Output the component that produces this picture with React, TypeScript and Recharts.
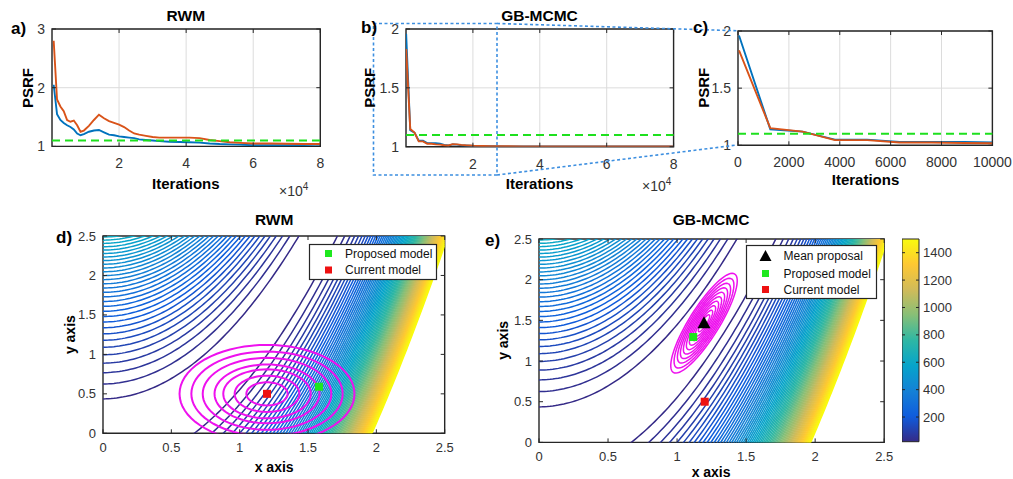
import React from "react";
import {
  Bar,
  CartesianGrid,
  ComposedChart,
  Line,
  LineChart,
  ReferenceArea,
  ReferenceLine,
  Scatter,
  XAxis,
  YAxis,
} from "recharts";

const FONT = "'Liberation Sans', Arial, Helvetica, sans-serif";
const INK = "#262626";
const TICK = "#333333";
const GRID = "#dcdcdc";
const BLUE = "#0072BD";
const ORANGE = "#D95319";
const GREEN = "#1ee01e";
const MAGENTA = "#ee11ee";
const RED = "#ee1111";
const ZOOM = "#3d8fe0";

const RWM_ITER = [
  500, 1500, 2500, 3500, 4500, 5500, 6500, 7500, 8500, 9500, 11000, 12500, 14000, 15500,
  17000, 18500, 20000, 21500, 23000, 24500, 26000, 28000, 30000, 32000, 35000, 38000,
  41000, 44000, 47000, 50000, 53000, 56000, 60000, 65000, 70000, 75000, 80000,
];
const RWM_BLUE = [
  2.05, 1.55, 1.45, 1.4, 1.36, 1.33, 1.29, 1.22, 1.19, 1.21, 1.25, 1.27, 1.28, 1.24,
  1.2, 1.19, 1.17, 1.16, 1.15, 1.14, 1.12, 1.11, 1.1, 1.09, 1.08, 1.075,
  1.07, 1.065, 1.05, 1.04, 1.035, 1.03, 1.02, 1.02, 1.02, 1.025, 1.03,
];
const RWM_ORANGE = [
  2.8, 1.8, 1.68, 1.6, 1.45, 1.42, 1.44, 1.36, 1.25, 1.27, 1.35, 1.45, 1.54, 1.48,
  1.43, 1.4, 1.37, 1.33, 1.27, 1.22, 1.2, 1.18, 1.16, 1.15, 1.15, 1.15,
  1.15, 1.14, 1.11, 1.09, 1.07, 1.06, 1.05, 1.05, 1.045, 1.04, 1.04,
];

const GB_ITER = [
  40, 1270, 2540, 3810, 5080, 6350, 7620, 8890, 10160, 11430, 12700, 13970, 15240,
  16510, 17780, 19050, 20320, 22860, 25400, 30000, 35000, 40000, 50000, 60000, 70000, 80000,
];
const GB_BLUE = [
  1.96, 1.14, 1.12, 1.05, 1.05, 1.03, 1.03, 1.03, 1.025, 1.015, 1.01, 1.02, 1.018,
  1.012, 1.01, 1.008, 1.006, 1.005, 1.004, 1.003, 1.003, 1.002, 1.002, 1.001, 1.001, 1.001,
];
const GB_ORANGE = [
  1.83, 1.15, 1.12, 1.045, 1.045, 1.025, 1.025, 1.02, 1.018, 1.012, 1.01, 1.022, 1.02,
  1.015, 1.012, 1.01, 1.008, 1.006, 1.005, 1.004, 1.003, 1.003, 1.002, 1.002, 1.002, 1.002,
];
const PSRF_TARGET = 1.1;

// ---- contour panels (Rosenbrock misfit, levels read from intercepts / colorbar)
const CONTOUR_LEVELS = [
  20, 40, 60, 80, 100, 120, 140, 160, 180, 200, 220, 240, 260, 280, 300, 320, 340, 360,
  380, 400, 420, 440, 460, 480, 500, 520, 540, 560, 580, 600, 620, 640, 660, 680, 700,
  720, 740, 760, 780, 800, 820, 840, 860, 880, 900, 920, 940, 960, 980, 1000, 1020, 1040,
  1060, 1080, 1100, 1120, 1140, 1160, 1180, 1200, 1220, 1240, 1260, 1280, 1300, 1320,
  1340, 1360, 1380, 1400, 1420, 1440, 1460, 1480, 1500,
];
const XY_TICKS = [0, 0.5, 1, 1.5, 2, 2.5];
const COLORBAR_TICKS = [200, 400, 600, 800, 1000, 1200, 1400];
const COLOR_RANGE = [20, 1500];

const CURRENT_MODEL = { x: 1.2, y: 0.5 };
const RWM_PROPOSED = { x: 1.58, y: 0.59 };
const GB_PROPOSED = { x: 1.117, y: 1.295 };
const GB_MEAN = { x: 1.195, y: 1.465 };

// proposal ellipses: centre, two semi-axis vectors, ring scales
const RWM_AXES = { major: [0.64, 0], minor: [0, 0.62] };
const RWM_RING_SCALES = [1, 0.865, 0.735, 0.6, 0.5, 0.37, 0.236];
const GB_AXES = { major: [0.2225, 0.605], minor: [0.092, -0.098] };
const GB_RING_SCALES = [1, 0.9, 0.8, 0.71, 0.62, 0.53, 0.44, 0.35, 0.26, 0.17];

const PARULA = [
  "#352a87", "#0f5cdd", "#1481d6", "#06a4ca", "#2eb7a4",
  "#87bf77", "#d1bb59", "#fec832", "#f9fb0e",
];

function hex(c: string) {
  return [1, 3, 5].map((i) => parseInt(c.slice(i, i + 2), 16));
}
function parula(t: number) {
  const u = Math.min(1, Math.max(0, t)) * (PARULA.length - 1);
  const i = Math.min(PARULA.length - 2, Math.floor(u));
  const f = u - i;
  const a = hex(PARULA[i]);
  const b = hex(PARULA[i + 1]);
  const m = a.map((v, k) => Math.round(v + (b[k] - v) * f));
  return `rgb(${m[0]},${m[1]},${m[2]})`;
}
const levelColor = (c: number) => parula((c - COLOR_RANGE[0]) / (COLOR_RANGE[1] - COLOR_RANGE[0]));

// level set of (1-x)^2 + 100(y-x^2)^2 = c, two branches
const branch = (x: number, c: number, sign: number) =>
  x * x + (sign * Math.sqrt(c - (1 - x) * (1 - x))) / 10;
const UPPER_LEVELS = CONTOUR_LEVELS.filter((c) => c < 640);
const SAMPLE_X = Array.from({ length: 126 }, (_, i) => +(i * 0.02).toFixed(2));
const CONTOUR_ROWS = SAMPLE_X.map((x) => {
  const row: Record<string, number> = { x };
  UPPER_LEVELS.forEach((c) => (row[`u${c}`] = branch(x, c, 1)));
  CONTOUR_LEVELS.forEach((c) => (row[`l${c}`] = branch(x, c, -1)));
  return row;
});

const ANGLES = Array.from({ length: 73 }, (_, i) => (i * 5 * Math.PI) / 180);
function rings(center: { x: number; y: number }, axes: { major: number[]; minor: number[] }, scales: number[]) {
  return scales.map((s) =>
    ANGLES.map((a) => ({
      x: center.x + s * (axes.major[0] * Math.cos(a) + axes.minor[0] * Math.sin(a)),
      y: center.y + s * (axes.major[1] * Math.cos(a) + axes.minor[1] * Math.sin(a)),
    }))
  );
}

const PAD_L = 40;
const PAD_T = 10;
const PAD_R = 30;
const PAD_B = 30;

type Box = { left: number; top: number; w: number; h: number };
const A: Box = { left: 51.7, top: 29.3, w: 268.3, h: 117.4 };
const B: Box = { left: 405.7, top: 29, w: 267.6, h: 117.7 };
const C: Box = { left: 738.3, top: 30.7, w: 254.4, h: 114.3 };
const D: Box = { left: 103.3, top: 236, w: 341.7, h: 197.3 };
const E: Box = { left: 538.5, top: 238.7, w: 345.2, h: 203.4 };
const CB: Box = { left: 901.8, top: 239.4, w: 17, h: 202.7 };

function makeTicks(box: Box, fontSize: number, labelGap: number, xFmt: (v: number) => string) {
  const bottom = PAD_T + box.h;
  const right = PAD_L + box.w;
  const xTick = (p: any) => (
    <g>
      <line x1={p.x} x2={p.x} y1={bottom} y2={bottom - 4} stroke={INK} />
      <line x1={p.x} x2={p.x} y1={PAD_T} y2={PAD_T + 4} stroke={INK} />
      <text x={p.x} y={bottom + labelGap} textAnchor="middle" fontSize={fontSize} fill={TICK} fontFamily={FONT}>
        {xFmt(p.payload.value)}
      </text>
    </g>
  );
  const yTick = (p: any) => (
    <g>
      <line x1={PAD_L} x2={PAD_L + 4} y1={p.y} y2={p.y} stroke={INK} />
      <line x1={right} x2={right - 4} y1={p.y} y2={p.y} stroke={INK} />
      <text x={PAD_L - 7} y={p.y} dy="0.35em" textAnchor="end" fontSize={fontSize} fill={TICK} fontFamily={FONT}>
        {String(p.payload.value)}
      </text>
    </g>
  );
  return { xTick, yTick };
}

type Row = { it: number; blue: number; orange: number };

function PsrfPanel({
  box, rows, xDomain, xTicks, xFmt, yDomain, yTicks,
}: {
  box: Box; rows: Row[]; xDomain: [number, number]; xTicks: number[];
  xFmt: (v: number) => string; yDomain: [number, number]; yTicks: number[];
}) {
  const { xTick, yTick } = makeTicks(box, 14, 22, xFmt);
  return (
    <div style={{ position: "absolute", left: box.left - PAD_L, top: box.top - PAD_T }}>
      <LineChart
        width={PAD_L + box.w + PAD_R}
        height={PAD_T + box.h + PAD_B}
        data={rows}
        margin={{ top: PAD_T, right: PAD_R, bottom: 0, left: 0 }}
      >
        <CartesianGrid stroke={GRID} />
        <XAxis dataKey="it" type="number" domain={xDomain} allowDataOverflow ticks={xTicks} interval={0}
          height={PAD_B} axisLine={false} tickLine={false} tick={xTick} />
        <YAxis type="number" domain={yDomain} allowDataOverflow ticks={yTicks} interval={0}
          width={PAD_L} axisLine={false} tickLine={false} tick={yTick} />
        <Line dataKey="blue" stroke={BLUE} strokeWidth={1.9} dot={false} isAnimationActive={false} />
        <Line dataKey="orange" stroke={ORANGE} strokeWidth={1.9} dot={false} isAnimationActive={false} />
        <ReferenceLine y={PSRF_TARGET} stroke={GREEN} strokeWidth={2} strokeDasharray="8 5" />
        <ReferenceArea x1={xDomain[0]} x2={xDomain[1]} y1={yDomain[0]} y2={yDomain[1]}
          fill="none" stroke={INK} strokeWidth={1.4} />
      </LineChart>
    </div>
  );
}

const square = (fill: string) => (p: any) => (
  <rect x={p.cx - 4} y={p.cy - 4} width={8} height={8} fill={fill} />
);
const triangle = (p: any) => (
  <polygon points={`${p.cx},${p.cy - 7} ${p.cx - 6.5},${p.cy + 5} ${p.cx + 6.5},${p.cy + 5}`} fill="#000" />
);

function ContourPanel({
  box, ringPts, ringWidth, proposed, mean,
}: {
  box: Box; ringPts: { x: number; y: number }[][]; ringWidth: number;
  proposed: { x: number; y: number }; mean?: { x: number; y: number };
}) {
  const { xTick, yTick } = makeTicks(box, 13, 19, (v) => String(v));
  return (
    <div style={{ position: "absolute", left: box.left - PAD_L, top: box.top - PAD_T }}>
      <ComposedChart
        width={PAD_L + box.w + PAD_R}
        height={PAD_T + box.h + PAD_B}
        data={CONTOUR_ROWS}
        margin={{ top: PAD_T, right: PAD_R, bottom: 0, left: 0 }}
      >
        <XAxis dataKey="x" type="number" domain={[0, 2.5]} allowDataOverflow ticks={XY_TICKS} interval={0}
          height={PAD_B} axisLine={false} tickLine={false} tick={xTick} />
        <YAxis type="number" domain={[0, 2.5]} allowDataOverflow ticks={XY_TICKS} interval={0}
          width={PAD_L} axisLine={false} tickLine={false} tick={yTick} />
        {UPPER_LEVELS.map((c) => (
          <Line key={`u${c}`} dataKey={`u${c}`} stroke={levelColor(c)} strokeWidth={1.5}
            dot={false} activeDot={false} isAnimationActive={false} />
        ))}
        {CONTOUR_LEVELS.map((c) => (
          <Line key={`l${c}`} dataKey={`l${c}`} stroke={levelColor(c)} strokeWidth={1.5}
            dot={false} activeDot={false} isAnimationActive={false} />
        ))}
        {ringPts.map((pts, i) => (
          <Line key={`r${i}`} data={pts} dataKey="y" stroke={MAGENTA} strokeWidth={ringWidth}
            dot={false} activeDot={false} isAnimationActive={false} />
        ))}
        {mean && <Scatter data={[mean]} dataKey="y" shape={triangle} isAnimationActive={false} />}
        <Scatter data={[proposed]} dataKey="y" shape={square("#1ee81e")} isAnimationActive={false} />
        <Scatter data={[CURRENT_MODEL]} dataKey="y" shape={square(RED)} isAnimationActive={false} />
        <ReferenceArea x1={0} x2={2.5} y1={0} y2={2.5} fill="none" stroke={INK} strokeWidth={1.4} />
      </ComposedChart>
    </div>
  );
}

function Colorbar() {
  const right = CB.w;
  const tick = (p: any) => (
    <g>
      <line x1={0} x2={3} y1={p.y} y2={p.y} stroke={INK} />
      <line x1={right} x2={right - 3} y1={p.y} y2={p.y} stroke={INK} />
      <text x={right + 4} y={p.y} dy="0.35em" fontSize={13} fill={TICK} fontFamily={FONT}>
        {String(p.payload.value)}
      </text>
    </g>
  );
  return (
    <div style={{ position: "absolute", left: CB.left, top: CB.top - 10 }}>
      <ComposedChart width={CB.w + 45} height={CB.h + 20} data={[{ k: "cb", v: COLOR_RANGE }]}
        margin={{ top: 10, right: 0, bottom: 10, left: 0 }} barCategoryGap={0}>
        <defs>
          <linearGradient id="parulaBar" x1="0" y1="1" x2="0" y2="0">
            {PARULA.map((c, i) => (
              <stop key={i} offset={`${(i / (PARULA.length - 1)) * 100}%`} stopColor={c} />
            ))}
          </linearGradient>
        </defs>
        <XAxis dataKey="k" hide />
        <YAxis orientation="right" type="number" domain={COLOR_RANGE} ticks={COLORBAR_TICKS} interval={0}
          width={45} axisLine={false} tickLine={false} tick={tick} />
        <Bar dataKey="v" fill="url(#parulaBar)" stroke={INK} strokeWidth={1} isAnimationActive={false} />
      </ComposedChart>
    </div>
  );
}

function Overlay() {
  const bold = { fontFamily: FONT, fontWeight: 700, fill: "#000" } as const;
  const mid = (b: Box) => b.left + b.w / 2;
  const vmid = (b: Box) => b.top + b.h / 2;
  const ylab = (x: number, y: number, s: string, size: number) => (
    <text x={x} y={y} transform={`rotate(-90 ${x} ${y})`} textAnchor="middle" fontSize={size} {...bold}>{s}</text>
  );
  const legendRow = (x: number, y: number, mark: React.ReactNode, label: string) => (
    <g>
      {mark}
      <text x={x} y={y} dy="0.35em" fontSize={12} fontFamily={FONT} fill="#111">{label}</text>
    </g>
  );
  const sq = (cx: number, cy: number, fill: string) => (
    <rect x={cx - 3.5} y={cy - 3.5} width={7} height={7} fill={fill} />
  );
  return (
    <svg width={1013} height={479} style={{ position: "absolute", left: 0, top: 0, pointerEvents: "none" }}>
      {/* zoom-in guide from b) to c) */}
      <g stroke={ZOOM} strokeWidth={1.6} strokeDasharray="3 2.5" fill="none">
        <rect x={373.5} y={23.5} width={123.5} height={151.5} />
        <line x1={497} y1={23.5} x2={737} y2={30.7} />
        <line x1={497} y1={175} x2={737} y2={145} />
      </g>

      <text x={mid(A)} y={21} textAnchor="middle" fontSize={15.5} {...bold}>RWM</text>
      <text x={mid(B)} y={21} textAnchor="middle" fontSize={15.5} {...bold}>GB-MCMC</text>
      <text x={mid(D)} y={225} textAnchor="middle" fontSize={15.5} {...bold}>RWM</text>
      <text x={mid(E)} y={225} textAnchor="middle" fontSize={15.5} {...bold}>GB-MCMC</text>

      <text x={11} y={34} fontSize={17} {...bold}>a)</text>
      <text x={361} y={33} fontSize={17} {...bold}>b)</text>
      <text x={693} y={33} fontSize={17} {...bold}>c)</text>
      <text x={56} y={243} fontSize={17} {...bold}>d)</text>
      <text x={485} y={246} fontSize={17} {...bold}>e)</text>

      <text x={mid(A)} y={189} textAnchor="middle" fontSize={15} {...bold}>Iterations</text>
      <text x={mid(B)} y={189} textAnchor="middle" fontSize={15} {...bold}>Iterations</text>
      <text x={mid(C)} y={185} textAnchor="middle" fontSize={15} {...bold}>Iterations</text>
      <text x={mid(D)} y={472} textAnchor="middle" fontSize={14} {...bold}>x axis</text>
      <text x={mid(E)} y={477} textAnchor="middle" fontSize={14} {...bold}>x axis</text>

      {ylab(33, vmid(A), "PSRF", 15)}
      {ylab(375, vmid(B), "PSRF", 15)}
      {ylab(709, vmid(C), "PSRF", 15)}
      {ylab(75, vmid(D), "y axis", 14)}
      {ylab(508, vmid(E), "y axis", 14)}

      <text x={279} y={196} fontSize={14} fontFamily={FONT} fill={TICK}>
        ×10<tspan dy={-6} fontSize={10}>4</tspan>
      </text>
      <text x={642} y={191} fontSize={14} fontFamily={FONT} fill={TICK}>
        ×10<tspan dy={-6} fontSize={10}>4</tspan>
      </text>

      {/* legend d */}
      <rect x={309.5} y={244.5} width={127} height={35} fill="#fff" stroke={INK} strokeWidth={1.2} />
      {legendRow(345, 253.5, sq(328.5, 253.5, "#1ee81e"), "Proposed model")}
      {legendRow(345, 270, sq(328.5, 270, RED), "Current model")}

      {/* legend e */}
      <rect x={746.5} y={245.5} width={130} height={53} fill="#fff" stroke={INK} strokeWidth={1.2} />
      {legendRow(783.5, 256, (
        <polygon points="765.5,250 759.5,261 771.5,261" fill="#000" />
      ), "Mean proposal")}
      {legendRow(783.5, 273.5, sq(765.5, 273.5, "#1ee81e"), "Proposed model")}
      {legendRow(783.5, 289.5, sq(765.5, 289.5, RED), "Current model")}
    </svg>
  );
}

const rwmRows: Row[] = RWM_ITER.map((it, i) => ({ it, blue: RWM_BLUE[i], orange: RWM_ORANGE[i] }));
const gbRows: Row[] = GB_ITER.map((it, i) => ({ it, blue: GB_BLUE[i], orange: GB_ORANGE[i] }));
const rwmRings = rings(CURRENT_MODEL, RWM_AXES, RWM_RING_SCALES);
const gbRings = rings(GB_MEAN, GB_AXES, GB_RING_SCALES);

export default function App() {
  const e4 = (v: number) => String(v / 10000);
  return (
    <div style={{ position: "absolute", left: 0, top: 0, width: 1013, height: 479, overflow: "hidden", background: "#fff", fontFamily: FONT }}>
      <PsrfPanel box={A} rows={rwmRows} xDomain={[0, 80000]} xTicks={[20000, 40000, 60000, 80000]}
        xFmt={e4} yDomain={[1, 3]} yTicks={[1, 2, 3]} />
      <PsrfPanel box={B} rows={gbRows} xDomain={[0, 80000]} xTicks={[20000, 40000, 60000, 80000]}
        xFmt={e4} yDomain={[1, 2]} yTicks={[1, 1.5, 2]} />
      <PsrfPanel box={C} rows={gbRows} xDomain={[0, 10000]} xTicks={[0, 2000, 4000, 6000, 8000, 10000]}
        xFmt={(v) => String(v)} yDomain={[1, 2]} yTicks={[1, 1.5, 2]} />
      <ContourPanel box={D} ringPts={rwmRings} ringWidth={2} proposed={RWM_PROPOSED} />
      <ContourPanel box={E} ringPts={gbRings} ringWidth={1.5} proposed={GB_PROPOSED} mean={GB_MEAN} />
      <Colorbar />
      <Overlay />
    </div>
  );
}
